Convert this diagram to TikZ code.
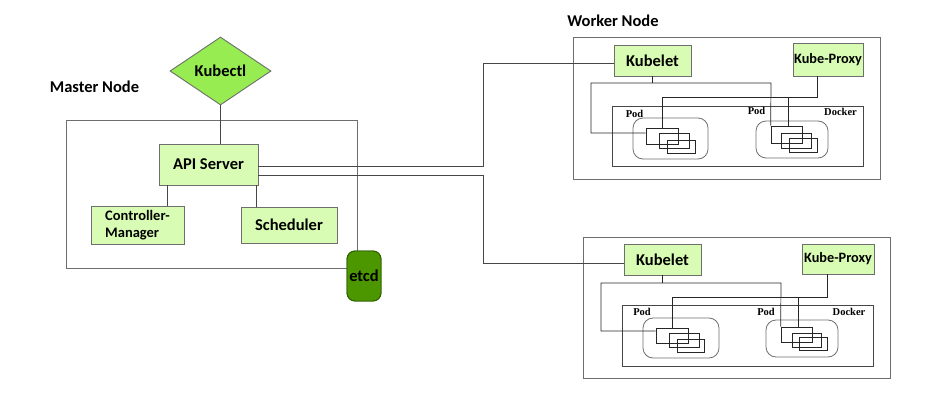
\documentclass[tikz,border=0pt]{standalone}
\usepackage{fontspec}
\setmainfont{Carlito}
\newfontfamily\podfont{Liberation Serif}
\usetikzlibrary{shapes.geometric,calc}
\definecolor{boxfill}{RGB}{217,252,180}
\definecolor{boxline}{RGB}{110,110,110}
\definecolor{kubectlfill}{RGB}{150,236,80}
\definecolor{etcdfill}{RGB}{76,150,0}
\definecolor{etcdline}{RGB}{45,95,0}
\definecolor{wire}{RGB}{70,70,70}
\tikzset{
  greenbox/.style={draw=boxline, fill=boxfill, line width=0.9pt, inner sep=0pt, font=\bfseries\fontsize{16.5}{18}\selectfont},
  frame/.style={draw=boxline, line width=0.9pt, inner sep=0pt},
  dockerbox/.style={draw=wire, line width=0.8pt, inner sep=0pt},
  podbox/.style={draw=boxline, line width=0.8pt, rounded corners=10pt, inner sep=0pt},
  ctr/.style={draw=black!85, line width=0.7pt, inner sep=0pt},
  wireline/.style={draw=wire, line width=0.8pt},
  thinwire/.style={draw=black!85, line width=0.7pt},
  title/.style={font=\bfseries\fontsize{16.5}{18}\selectfont, inner sep=0pt},
  podtext/.style={font=\podfont\bfseries\fontsize{10.5}{12}\selectfont, inner sep=0pt},
}
\newcommand{\boxat}[6]{% name, x1,y1,x2,y2, style
  \node[#6, minimum width={(#4-#2)*1pt}, minimum height={(#5-#3)*1pt}] (#1) at ({(#2+#4)/2},{(#3+#5)/2}) {};}
\begin{document}
\begin{tikzpicture}[x=1pt,y=-1pt]
\useasboundingbox (0,0) rectangle (928,409);

% ---------------- Master node ----------------
\node[title] (mastertitle) at (94.5,87) {Master Node};
\boxat{master}{66}{120}{357}{268}{frame}
\node[shape=diamond, draw=boxline, fill=kubectlfill, line width=0.9pt, inner sep=0pt, minimum width=101pt, minimum height=68pt, shape aspect=1.49, font=\bfseries\fontsize{16.5}{18}\selectfont] (kubectl) at (220.5,71) {Kubectl};
\node[greenbox, minimum width=99pt, minimum height=41pt] (api) at (208.5,164.5) {API Server};
\node[greenbox, minimum width=93pt, minimum height=38pt, align=left, font=\bfseries\fontsize{14.5}{17}\selectfont] (cm) at (137.5,225) {Controller-\\Manager};
\node[greenbox, minimum width=96pt, minimum height=36pt] (sched) at (289,225) {Scheduler};
\node[draw=etcdline, fill=etcdfill, line width=0.9pt, rounded corners=8pt, minimum width=34pt, minimum height=50pt, inner sep=0pt, font=\bfseries\fontsize{16.5}{18}\selectfont] (etcd) at (364,276) {etcd};

\coordinate (cmx) at (167,0);
\coordinate (schx) at (256,0);
\coordinate (busx) at (483,0);
\draw[wireline] (kubectl.south) -- (kubectl.south |- api.north);
\draw[wireline] (api.south -| cmx) -- (cm.north -| cmx);
\draw[wireline] (api.south -| schx) -- (sched.north -| schx);

% ---------------- Worker node 1 ----------------
\node[title] (workertitle) at (613,21) {Worker Node};
\boxat{worker1}{573}{37}{880}{179}{frame}
\node[greenbox, minimum width=77pt, minimum height=31pt] (kubelet1) at (652.5,60.5) {Kubelet};
\node[greenbox, minimum width=70pt, minimum height=33pt, font=\bfseries\fontsize{14.3}{16}\selectfont] (proxy1) at (828,59.5) {Kube-Proxy};
\boxat{docker1}{612}{106}{863}{166}{dockerbox}
\boxat{pod1a}{633}{118}{708}{159}{podbox}
\boxat{pod1b}{756}{121}{828}{158}{podbox}
\node[podtext] (pod1alabel) at (634.5,114) {Pod};
\node[podtext] (pod1blabel) at (756.5,111) {Pod};
\node[podtext] (docker1label) at (840.5,112) {Docker};
\boxat{c1a1}{646}{128}{678}{144}{ctr}
\boxat{c2a1}{659}{133}{689}{148}{ctr}
\boxat{c3a1}{667}{140}{695}{153}{ctr}
\boxat{c1b1}{771}{126}{802}{143}{ctr}
\boxat{c2b1}{781}{133}{811}{148}{ctr}
\boxat{c3b1}{789}{138}{817}{152}{ctr}

\coordinate (k1l) at (591,83);
\coordinate (k1r) at (771,83);
\coordinate (p1h) at (0,97);
\draw[thinwire] (kubelet1.south) -- (kubelet1.south |- k1l);
\draw[thinwire] ([yshift=3pt]c1a1.west) -| (k1l) -- (k1r) -- (c1b1.north west);
\draw[thinwire] ([xshift=-11pt]proxy1.south) |- (c1a1.north |- p1h) -- (c1a1.north);
\draw[thinwire] ([xshift=1.5pt]c1b1.north |- p1h) -- ([xshift=1.5pt]c1b1.north);

% ---------------- Worker node 2 ----------------
\boxat{worker2}{583}{237}{890}{378}{frame}
\node[greenbox, minimum width=77pt, minimum height=31pt] (kubelet2) at (662.5,259.5) {Kubelet};
\node[greenbox, minimum width=72pt, minimum height=30pt, font=\bfseries\fontsize{14.3}{16}\selectfont] (proxy2) at (838,259) {Kube-Proxy};
\boxat{docker2}{622}{305}{873}{366}{dockerbox}
\boxat{pod2a}{643}{318}{719}{358}{podbox}
\boxat{pod2b}{766}{320}{838}{357}{podbox}
\node[podtext] (pod2alabel) at (642,312) {Pod};
\node[podtext] (pod2blabel) at (766,312) {Pod};
\node[podtext] (docker2label) at (849,312) {Docker};
\boxat{c1a2}{656}{328}{688}{343}{ctr}
\boxat{c2a2}{669}{333}{699}{347}{ctr}
\boxat{c3a2}{677}{339}{704}{352}{ctr}
\boxat{c1b2}{781}{327}{812}{342}{ctr}
\boxat{c2b2}{792}{333}{821}{347}{ctr}
\boxat{c3b2}{799}{337}{827}{350}{ctr}

\coordinate (k2l) at (601,283);
\coordinate (k2r) at (781,283);
\coordinate (p2h) at (0,297);
\draw[thinwire] (kubelet2.south) -- (kubelet2.south |- k2l);
\draw[thinwire] ([yshift=4.5pt]c1a2.west) -| (k2l) -- (k2r) -- (c1b2.north west);
\draw[thinwire] ([xshift=-11pt]proxy2.south) |- (c1a2.north |- p2h) -- (c1a2.north);
\draw[thinwire] ([xshift=1.5pt]c1b2.north |- p2h) -- ([xshift=1.5pt]c1b2.north);

% ---------------- API server to kubelets ----------------
\draw[wireline] ([yshift=-1.5pt]api.east) -| ([yshift=-2.5pt]busx |- kubelet1.west) -- ([yshift=-2.5pt]kubelet1.west);
\draw[wireline] ([yshift=-10.5pt]api.east) -| ([yshift=-3.5pt]busx |- kubelet2.west) -- ([yshift=-3.5pt]kubelet2.west);

% redraw etcd above master frame
\node[draw=etcdline, fill=etcdfill, line width=0.9pt, rounded corners=8pt, minimum width=34pt, minimum height=50pt, inner sep=0pt, font=\bfseries\fontsize{16.5}{18}\selectfont] (etcdtop) at (364,276) {etcd};
\end{tikzpicture}
\end{document}
